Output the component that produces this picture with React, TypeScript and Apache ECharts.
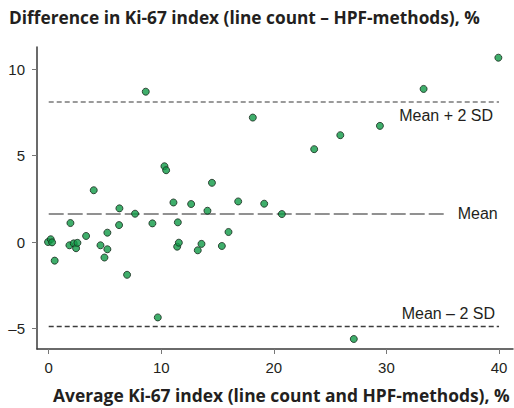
import React, { useEffect, useRef } from "react";
import * as echarts from "echarts";

// Average Ki-67 index (x) and difference (y)
const avgValues = [
  -0.06, 0.18, 0.3, 0.53, 1.93, 1.84, 2.22, 2.43, 2.55, 3.32, 4.0, 4.6, 4.95, 5.21, 5.21,
  6.28, 6.25, 6.96, 7.67, 9.21, 9.69, 11.08, 11.47, 11.41, 11.56, 12.65, 13.24, 13.57,
  14.1, 14.5, 15.38, 15.97, 16.83, 8.62, 10.28, 10.43, 18.13, 39.94, 33.3, 29.42, 25.9,
  23.58, 19.14, 20.71, 27.1,
];
const diffValues = [
  0.0, 0.16, -0.02, -1.08, 1.1, -0.19, -0.08, -0.36, -0.05, 0.35, 3.0, -0.19, -0.9, 0.54,
  -0.42, 1.95, 0.98, -1.9, 1.64, 1.08, -4.37, 2.29, 1.14, -0.27, -0.04, 2.2, -0.48, -0.11,
  1.81, 3.43, -0.23, 0.58, 2.35, 8.71, 4.39, 4.16, 7.21, 10.68, 8.87, 6.73, 6.19, 5.38,
  2.22, 1.62, -5.62,
];

const meanValue = 1.64;
const upperLimit = 8.13;
const lowerLimit = -4.86;
const meanLineEnd = 35.35;
const limitLineEnd = 40;

const xTicks = [0, 10, 20, 30, 40];
const yTicks = [-5, 0, 5, 10];

const yTitle = "Difference in Ki-67 index (line count – HPF-methods), %";
const xTitle = "Average Ki-67 index (line count and HPF-methods), %";
const meanLabel = "Mean";
const upperLabel = "Mean + 2 SD";
const lowerLabel = "Mean – 2 SD";

const FONT = "'Liberation Sans', Arial, Helvetica, sans-serif";
const TITLE_FONT = "'Open Sans', 'Liberation Sans', Arial, sans-serif";
const TEXT = "#231f20";

export default function App() {
  const ref = useRef<HTMLDivElement>(null);
  useEffect(() => {
    if (!ref.current) return;
    const chart = echarts.init(ref.current, undefined, { renderer: "svg" });
    const points = avgValues.map((x, i) => [x, diffValues[i]]);
    const lineLabel = { fontSize: 16, color: TEXT, fontFamily: FONT };
    chart.setOption({
      animation: false,
      textStyle: { fontFamily: FONT, color: TEXT },
      grid: { left: 37, right: 1, top: 47, bottom: 59, containLabel: false },
      xAxis: {
        type: "value",
        min: -1.04,
        max: 41.24,
        splitLine: { show: false },
        axisLine: { show: true, onZero: false, lineStyle: { color: "#3a3a3a", width: 1.5 } },
        axisTick: { show: true, customValues: xTicks, length: 5, lineStyle: { color: "#777", width: 1 } },
        axisLabel: { customValues: xTicks, fontSize: 15, color: TEXT, margin: 11, fontFamily: FONT },
      },
      yAxis: {
        type: "value",
        min: -6.2,
        max: 11.3,
        splitLine: { show: false },
        axisLine: { show: true, onZero: false, lineStyle: { color: "#3a3a3a", width: 1.5 } },
        axisTick: { show: true, customValues: yTicks, length: 5, lineStyle: { color: "#777", width: 1 } },
        axisLabel: {
          customValues: yTicks,
          fontSize: 15,
          color: TEXT,
          margin: 12,
          fontFamily: FONT,
          formatter: (v: number) => String(v).replace("-", "–"),
        },
      },
      graphic: [
        {
          type: "text",
          left: 9,
          top: 9,
          style: { text: yTitle, font: `bold 17.3px ${TITLE_FONT}`, fill: TEXT },
        },
        {
          type: "text",
          left: 53,
          top: 386,
          style: { text: xTitle, font: `bold 17.4px ${TITLE_FONT}`, fill: TEXT },
        },
      ],
      series: [
        {
          type: "scatter",
          data: points,
          symbol: "circle",
          symbolSize: 7,
          itemStyle: { color: "#0f9a46", borderColor: "#17281b", borderWidth: 1 },
          z: 5,
          markLine: {
            silent: true,
            symbol: ["none", "none"],
            animation: false,
            data: [
              [
                {
                  coord: [0, meanValue],
                  lineStyle: { color: "#6e6e6e", width: 1.5, type: [15, 4] },
                  label: { show: true, position: "end", formatter: meanLabel, distance: 11, ...lineLabel },
                },
                { coord: [meanLineEnd, meanValue] },
              ],
              [
                {
                  coord: [0, upperLimit],
                  lineStyle: { color: "#7a7a7a", width: 1.5, type: [5, 3] },
                  label: { show: true, position: "insideEndBottom", formatter: upperLabel, distance: 6, ...lineLabel },
                },
                { coord: [limitLineEnd, upperLimit] },
              ],
              [
                {
                  coord: [0, lowerLimit],
                  lineStyle: { color: "#3c3c3c", width: 1.3, type: [5, 3] },
                  label: { show: true, position: "insideEndTop", formatter: lowerLabel, distance: 4, ...lineLabel },
                },
                { coord: [limitLineEnd, lowerLimit] },
              ],
            ],
          },
        },
      ],
    });
    return () => chart.dispose();
  }, []);
  return (
    <div
      ref={ref}
      style={{ position: "fixed", left: 0, top: 0, width: 514, height: 408, background: "#fff" }}
    />
  );
}
